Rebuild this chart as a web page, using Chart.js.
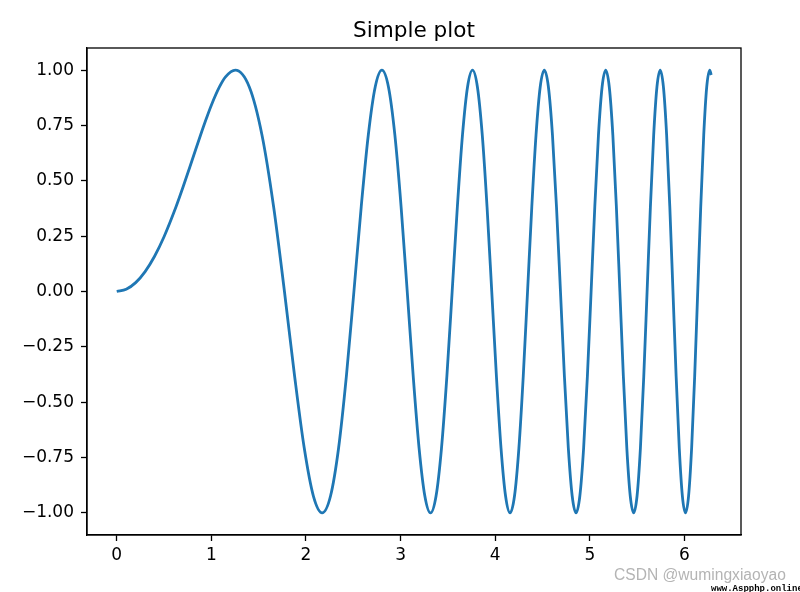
<!DOCTYPE html>
<html>
<head>
<meta charset="utf-8">
<script src="https://cdn.jsdelivr.net/npm/chart.js@4/dist/chart.umd.min.js"></script>
<style>
  body { margin: 0; background: #fff; }
  #wrap { position: relative; width: 800px; height: 592px; }
  #mark1 { position: absolute; left: 614px; top: 566px; font: 15.6px "Liberation Sans", Arial, sans-serif; color: #b4b4b4; white-space: nowrap; }
  #mark2 { position: absolute; left: 711px; top: 584px; font: bold 9px "Liberation Mono", monospace; color: #000; white-space: nowrap; }
</style>
</head>
<body>
<div id="wrap">
  <canvas id="plot" width="800" height="592"></canvas>
  <div id="mark1">CSDN @wumingxiaoyao</div>
  <div id="mark2">www.Aspphp.online</div>
</div>
<script>
// points of y = sin(x^2) read at the zeros, peaks and eighth-phase spots
const xValues = [0, 0.1, 0.2, 0.3, 0.4, 0.5,
    0.6267, 0.7, 0.8, 0.8862, 0.95, 1.0, 1.0854, 1.15, 1.2533, 1.4012, 1.5350, 1.6580, 1.7725,
    1.8800, 1.9817, 2.0784, 2.1708, 2.2594, 2.3447, 2.4270, 2.5066,
    2.5838, 2.6587, 2.7315, 2.8025, 2.8717, 2.9393, 3.0053, 3.0700,
    3.1333, 3.1953, 3.2562, 3.3160, 3.3747, 3.4323, 3.4891, 3.5449,
    3.5999, 3.6540, 3.7074, 3.7599, 3.8118, 3.8630, 3.9135, 3.9633,
    4.0126, 4.0612, 4.1093, 4.1568, 4.2037, 4.2502, 4.2962, 4.3416,
    4.3866, 4.4312, 4.4753, 4.5189, 4.5621, 4.6049, 4.6474, 4.6895,
    4.7311, 4.7725, 4.8134, 4.8541, 4.8943, 4.9343, 4.9740, 5.0133,
    5.0523, 5.0910, 5.1294, 5.1676, 5.2054, 5.2430, 5.2803, 5.3174,
    5.3542, 5.3907, 5.4270, 5.4631, 5.4989, 5.5345, 5.5699, 5.6050,
    5.6399, 5.6746, 5.7091, 5.7434, 5.7775, 5.8114, 5.8450, 5.8785,
    5.9119, 5.9450, 5.9779, 6.0107, 6.0433, 6.0757, 6.1079, 6.1400,
    6.1719, 6.2036, 6.2352, 6.2666, 6.2832]
const yValues = [0, 0.01, 0.04, 0.0899, 0.1593, 0.2474,
    0.3827, 0.4706, 0.5972, 0.7071, 0.7848, 0.8415, 0.9239, 0.9694, 1, 0.9239, 0.7071, 0.3827, 0,
    -0.3827, -0.7071, -0.9239, -1, -0.9239, -0.7071, -0.3827, 0,
    0.3827, 0.7071, 0.9239, 1, 0.9239, 0.7071, 0.3827, 0,
    -0.3827, -0.7071, -0.9239, -1, -0.9239, -0.7071, -0.3827, 0,
    0.3827, 0.7071, 0.9239, 1, 0.9239, 0.7071, 0.3827, 0,
    -0.3827, -0.7071, -0.9239, -1, -0.9239, -0.7071, -0.3827, 0,
    0.3827, 0.7071, 0.9239, 1, 0.9239, 0.7071, 0.3827, 0,
    -0.3827, -0.7071, -0.9239, -1, -0.9239, -0.7071, -0.3827, 0,
    0.3827, 0.7071, 0.9239, 1, 0.9239, 0.7071, 0.3827, 0,
    -0.3827, -0.7071, -0.9239, -1, -0.9239, -0.7071, -0.3827, 0,
    0.3827, 0.7071, 0.9239, 1, 0.9239, 0.7071, 0.3827, 0,
    -0.3827, -0.7071, -0.9239, -1, -0.9239, -0.7071, -0.3827, 0,
    0.3827, 0.7071, 0.9239, 1, 0.9783]
const xTicks = [0, 1, 2, 3, 4, 5, 6]
const yTicks = [-1, -0.75, -0.5, -0.25, 0, 0.25, 0.5, 0.75, 1]
const titleText = "Simple plot"

const tickFont = { family: "DejaVu Sans", size: 17 }

// matplotlib draws a closed box around the axes and centres the title over it
const boxPlugin = {
    id: 'box',
    afterDraw(chart) {
        const a = chart.chartArea
        const ctx = chart.ctx
        ctx.save()
        ctx.strokeStyle = '#000'
        ctx.lineWidth = 1.3
        ctx.strokeRect(a.left, a.top, a.right - a.left, a.bottom - a.top)
        ctx.fillStyle = '#000'
        ctx.font = '21.6px "DejaVu Sans"'
        ctx.textAlign = 'center'
        ctx.textBaseline = 'middle'
        ctx.fillText(titleText, (a.left + a.right) / 2, 31)
        ctx.restore()
    }
}

const points = xValues.map((x, i) => { return { x: x, y: yValues[i] } })

const config = {
    type: 'line',
    data: {
        datasets: [{
            data: points,
            borderColor: '#1f77b4',
            borderWidth: 2.8,
            pointRadius: 0,
            fill: false,
            cubicInterpolationMode: 'monotone'
        }]
    },
    options: {
        responsive: false,
        animation: false,
        devicePixelRatio: 1,
        layout: { padding: { left: 0, right: 59, top: 48, bottom: 0 } },
        plugins: {
            legend: { display: false },
            tooltip: { enabled: false },
            title: { display: false }
        },
        scales: {
            x: {
                type: 'linear',
                min: -0.3142,
                max: 6.5974,
                afterBuildTicks: (scale) => { scale.ticks = xTicks.map(v => ({ value: v })) },
                afterFit: (scale) => { scale.height = 57 },
                grid: { drawOnChartArea: false, drawTicks: true, tickLength: 6, tickColor: '#000', tickWidth: 1.3 },
                border: { display: true, color: '#000', width: 1.3 },
                ticks: { color: '#000', font: tickFont, padding: 4, maxRotation: 0,
                    callback: (v) => String(v) }
            },
            y: {
                type: 'linear',
                min: -1.1,
                max: 1.1,
                afterBuildTicks: (scale) => { scale.ticks = yTicks.map(v => ({ value: v })) },
                afterFit: (scale) => { scale.width = 87 },
                grid: { drawOnChartArea: false, drawTicks: true, tickLength: 6, tickColor: '#000', tickWidth: 1.3 },
                border: { display: true, color: '#000', width: 1.3 },
                ticks: { color: '#000', font: tickFont, padding: 7,
                    callback: (v) => Number(v).toFixed(2).replace('-', '\u2212') }
            }
        }
    },
    plugins: [boxPlugin]
}

new Chart(document.getElementById('plot'), config)
</script>
</body>
</html>
